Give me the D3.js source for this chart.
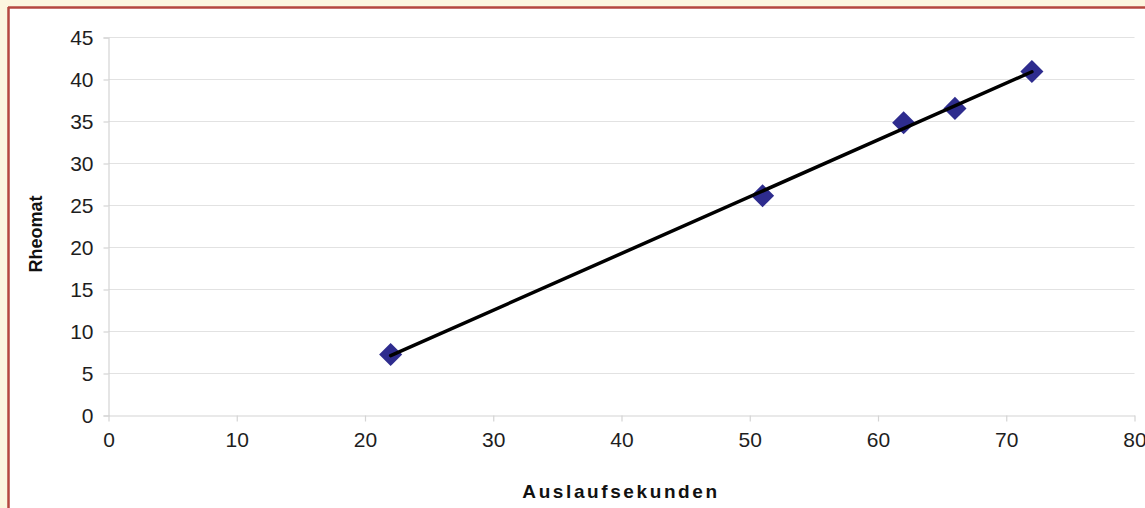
<!DOCTYPE html>
<html>
<head>
<meta charset="utf-8">
<script src="https://cdn.jsdelivr.net/npm/d3@7"></script>
<style>
  html, body { margin: 0; padding: 0; background: #fcf6df; }
  svg { display: block; }
</style>
</head>
<body>
<svg id="chart" width="1145" height="508"></svg>
<script>
// Auslaufsekunden (x) vs. Rheomat (y)
const auslaufsekunden = [22, 51, 62, 66, 72];
const rheomat = [7.2, 26.1, 34.8, 36.5, 40.9];
const xTicks = [0, 10, 20, 30, 40, 50, 60, 70, 80];
const yTicks = [0, 5, 10, 15, 20, 25, 30, 35, 40, 45];

const svg = d3.select("#chart");
const W = 1145, H = 508;

// frame: cream page, red rule, white chart area
svg.append("rect").attr("x", 0).attr("y", 0).attr("width", W).attr("height", H).attr("fill", "#fcf6df");
svg.append("rect").attr("x", 9).attr("y", 8).attr("width", W).attr("height", H).attr("fill", "#ffffff");
svg.append("line").attr("x1", 8).attr("x2", W).attr("y1", 7.5).attr("y2", 7.5)
  .attr("stroke", "#b5473f").attr("stroke-width", 2.5);
svg.append("line").attr("x1", 8.5).attr("x2", 8.5).attr("y1", 7).attr("y2", H)
  .attr("stroke", "#b5473f").attr("stroke-width", 2.5);

const x = d3.scaleLinear().domain([0, 80]).range([108.5, 1134.5]);
const y = d3.scaleLinear().domain([0, 45]).range([415, 37]);

const font = "Liberation Sans, Arial, Helvetica, sans-serif";

// horizontal gridlines
svg.append("g").selectAll("line").data(yTicks.filter(d => d > 0)).join("line")
  .attr("x1", x(0)).attr("x2", x(80))
  .attr("y1", d => Math.round(y(d)) + 0.5).attr("y2", d => Math.round(y(d)) + 0.5)
  .attr("stroke", "#e2e2e2").attr("stroke-width", 1.2);

// y axis
const yAxis = d3.axisLeft(y).tickValues(yTicks).tickSize(5).tickPadding(10).tickFormat(d3.format("d"));
const gy = svg.append("g").attr("transform", `translate(${x(0)},0.5)`).call(yAxis);
gy.select(".domain").attr("stroke", "#d4d4d4").attr("stroke-width", 1.2);
gy.selectAll(".tick line").attr("stroke", "#d4d4d4").attr("stroke-width", 1.2);
gy.selectAll(".tick text").attr("font-family", font).attr("font-size", 21).attr("fill", "#1e1e1e");

// x axis
const xAxis = d3.axisBottom(x).tickValues(xTicks).tickSize(6).tickSizeOuter(0).tickPadding(11).tickFormat(d3.format("d"));
const gx = svg.append("g").attr("transform", `translate(0,${Math.round(y(0)) + 0.5})`).call(xAxis);
gx.select(".domain").attr("stroke", "#d4d4d4").attr("stroke-width", 1.2);
gx.selectAll(".tick line").attr("stroke", "#d4d4d4").attr("stroke-width", 1.2);
gx.selectAll(".tick text").attr("font-family", font).attr("font-size", 21).attr("fill", "#1e1e1e");

// data points as diamonds
const pts = auslaufsekunden.map((v, i) => [v, rheomat[i]]);
const diamond = d3.symbol().type(d3.symbolDiamond2).size(340);
svg.append("g").selectAll("path").data(pts).join("path")
  .attr("d", diamond)
  .attr("transform", d => `translate(${x(d[0])},${y(d[1])})`)
  .attr("fill", "#2e2c8e");

// least-squares trend line over the measured range
const mx = d3.mean(auslaufsekunden), my = d3.mean(rheomat);
const slope = d3.sum(pts, d => (d[0] - mx) * (d[1] - my)) / d3.sum(pts, d => (d[0] - mx) ** 2);
const icpt = my - slope * mx;
const xr = d3.extent(auslaufsekunden);
svg.append("line")
  .attr("x1", x(xr[0])).attr("y1", y(slope * xr[0] + icpt))
  .attr("x2", x(xr[1])).attr("y2", y(slope * xr[1] + icpt))
  .attr("stroke", "#000").attr("stroke-width", 3.5).attr("stroke-linecap", "round");

// axis titles
svg.append("text")
  .attr("x", 621).attr("y", 498)
  .attr("text-anchor", "middle")
  .attr("font-family", font).attr("font-weight", "bold").attr("font-size", 19)
  .attr("letter-spacing", "2.6px")
  .attr("fill", "#111")
  .text("Auslaufsekunden");

svg.append("text")
  .attr("transform", "translate(42,234) rotate(-90)")
  .attr("text-anchor", "middle")
  .attr("font-family", font).attr("font-weight", "bold").attr("font-size", 18)
  .attr("fill", "#111")
  .text("Rheomat");
</script>
</body>
</html>
